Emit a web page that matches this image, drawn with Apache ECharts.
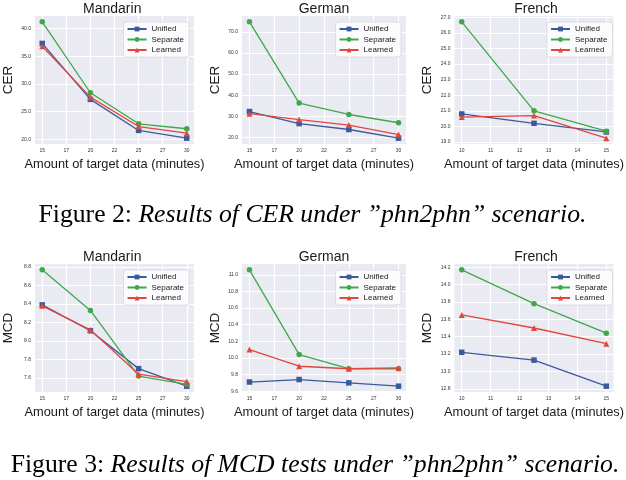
<!DOCTYPE html>
<html><head><meta charset="utf-8">
<script src="https://cdn.jsdelivr.net/npm/echarts@6/dist/echarts.min.js"></script>
<style>html,body{margin:0;padding:0;background:#fff}#c{width:626px;height:480px}</style>
</head><body><div id="c"></div><script>
const seriesNames = ['Unified', 'Separate', 'Learned'];
const mandarinMinutes = [15, 20, 25, 30];
const germanMinutes = [15, 20, 25, 30];
const frenchMinutes = [10, 12.5, 15];

const cerMandarinUnified = [37.3, 27.2, 21.6, 20.2];
const cerMandarinSeparate = [41.2, 28.4, 22.8, 21.9];
const cerMandarinLearned = [36.8, 27.6, 22.3, 21.1];
const cerGermanUnified = [32.3, 26.6, 23.8, 19.7];
const cerGermanSeparate = [74.7, 36.3, 30.9, 27.0];
const cerGermanLearned = [31.3, 28.5, 25.9, 21.4];
const cerFrenchUnified = [20.8, 20.2, 19.65];
const cerFrenchSeparate = [26.7, 21.0, 19.7];
const cerFrenchLearned = [20.6, 20.7, 19.25];
const mcdMandarinUnified = [8.39, 8.11, 7.70, 7.51];
const mcdMandarinSeparate = [8.77, 8.33, 7.62, 7.53];
const mcdMandarinLearned = [8.38, 8.12, 7.64, 7.56];
const mcdGermanUnified = [9.71, 9.74, 9.70, 9.66];
const mcdGermanSeparate = [11.06, 10.04, 9.87, 9.87];
const mcdGermanLearned = [10.10, 9.90, 9.87, 9.88];
const mcdFrenchUnified = [13.22, 13.13, 12.83];
const mcdFrenchSeparate = [14.17, 13.78, 13.44];
const mcdFrenchLearned = [13.65, 13.50, 13.32];

const xTicks1530 = [15, 17.5, 20, 22.5, 25, 27.5, 30];
const xTickLabels1530 = ['15', '17', '20', '22', '25', '27', '30'];
const xTicks1015 = [10, 11, 12, 13, 14, 15];
const xTickLabels1015 = ['10', '11', '12', '13', '14', '15'];
const yTicksCerMandarin = [20, 25, 30, 35, 40];
const yTicksCerGerman = [20, 30, 40, 50, 60, 70];
const yTicksCerFrench = [19, 20, 21, 22, 23, 24, 25, 26, 27];
const yTicksMcdMandarin = [7.6, 7.8, 8.0, 8.2, 8.4, 8.6, 8.8];
const yTicksMcdGerman = [9.6, 9.8, 10.0, 10.2, 10.4, 10.6, 10.8, 11.0];
const yTicksMcdFrench = [12.8, 13.0, 13.2, 13.4, 13.6, 13.8, 14.0, 14.2];

const panelTitles = ['Mandarin', 'German', 'French', 'Mandarin', 'German', 'French'];
const xLabelText = 'Amount of target data (minutes)';
const caption1Lead = 'Figure 2: ';
const caption1Body = 'Results of CER under \u201dphn2phn\u201d scenario.';
const caption2Lead = 'Figure 3: ';
const caption2Body = 'Results of MCD tests under \u201dphn2phn\u201d scenario.';

const colors = ['#3a5a9c', '#3fa84a', '#e0483e'];
const symbols = ['rect', 'circle', 'triangle'];
const symbolSizes = [5.5, 5.5, 6];
const SANS = '"Liberation Sans", Arial, sans-serif';
const SERIF = '"Liberation Serif", "Times New Roman", serif';

const cols = [{ left: 30.5, width: 163.5 }, { left: 242, width: 164 }, { left: 454.5, width: 163 }];
const rows = [{ top: 16, height: 128 }, { top: 264, height: 128 }];

const panels = [
  { yName: 'CER', x: mandarinMinutes, xt: xTicks1530, xl: xTickLabels1530, yt: yTicksCerMandarin, ys: [cerMandarinUnified, cerMandarinSeparate, cerMandarinLearned] },
  { yName: 'CER', x: germanMinutes, xt: xTicks1530, xl: xTickLabels1530, yt: yTicksCerGerman, ys: [cerGermanUnified, cerGermanSeparate, cerGermanLearned] },
  { yName: 'CER', x: frenchMinutes, xt: xTicks1015, xl: xTickLabels1015, yt: yTicksCerFrench, ys: [cerFrenchUnified, cerFrenchSeparate, cerFrenchLearned] },
  { yName: 'MCD', x: mandarinMinutes, xt: xTicks1530, xl: xTickLabels1530, yt: yTicksMcdMandarin, ys: [mcdMandarinUnified, mcdMandarinSeparate, mcdMandarinLearned] },
  { yName: 'MCD', x: germanMinutes, xt: xTicks1530, xl: xTickLabels1530, yt: yTicksMcdGerman, ys: [mcdGermanUnified, mcdGermanSeparate, mcdGermanLearned] },
  { yName: 'MCD', x: frenchMinutes, xt: xTicks1015, xl: xTickLabels1015, yt: yTicksMcdFrench, ys: [mcdFrenchUnified, mcdFrenchSeparate, mcdFrenchLearned] }
];

function padRange(arrs) {
  let lo = Infinity, hi = -Infinity;
  arrs.forEach(a => a.forEach(v => { lo = Math.min(lo, v); hi = Math.max(hi, v); }));
  const m = (hi - lo) * 0.05;
  return [lo - m, hi + m];
}

const grid = [], xAxis = [], yAxis = [], series = [], legend = [], graphic = [];
panels.forEach((p, i) => {
  const c = cols[i % 3], r = rows[Math.floor(i / 3)];
  grid.push({ left: c.left, top: r.top, width: c.width, height: r.height, show: true,
    backgroundColor: '#eaeaf2', borderWidth: 0 });
  const xr = padRange([p.x]);
  const yr = padRange(p.ys);
  xAxis.push({
    gridIndex: i, type: 'value', min: xr[0], max: xr[1],
    axisLine: { show: false }, axisTick: { show: false, customValues: p.xt },
    axisLabel: { customValues: p.xt, formatter: v => { const k = p.xt.findIndex(t => Math.abs(t - v) < 1e-6); return k >= 0 ? p.xl[k] : ''; },
      fontSize: 5, margin: 4, color: '#333', fontFamily: SANS },
    splitLine: { show: true, lineStyle: { color: '#ffffff', width: 1.2 } },
    name: xLabelText, nameLocation: 'middle', nameGap: 14,
    nameTextStyle: { fontSize: 12.8, color: '#1a1a1a', fontFamily: SANS }
  });
  yAxis.push({
    gridIndex: i, type: 'value', min: yr[0], max: yr[1],
    axisLine: { show: false }, axisTick: { show: false, customValues: p.yt },
    axisLabel: { customValues: p.yt, formatter: v => v.toFixed(1), fontSize: 5, margin: 4, color: '#333', fontFamily: SANS },
    splitLine: { show: true, lineStyle: { color: '#ffffff', width: 1.2 } },
    name: p.yName, nameLocation: 'middle', nameGap: 20,
    nameTextStyle: { fontSize: 13.5, color: '#1a1a1a', fontFamily: SANS }
  });
  p.ys.forEach((vals, k) => {
    series.push({
      type: 'line', name: seriesNames[k], xAxisIndex: i, yAxisIndex: i,
      data: p.x.map((xv, j) => [xv, vals[j]]),
      symbol: symbols[k], symbolSize: symbolSizes[k], showSymbol: true,
      lineStyle: { width: 1.3, color: colors[k] }, itemStyle: { color: colors[k] },
      z: 2 + k, animation: false, silent: true
    });
  });
  legend.push({
    data: seriesNames, orient: 'vertical',
    right: 626 - (c.left + c.width) + 5, top: r.top + 6,
    itemWidth: 19, itemHeight: 6, itemGap: 2.5,
    padding: [3, 5, 3, 3],
    backgroundColor: 'rgba(255,255,255,0.8)', borderColor: '#d8d8d8', borderWidth: 0.8, borderRadius: 3,
    textStyle: { fontSize: 8, color: '#1a1a1a', fontFamily: SANS }
  });
  graphic.push({ type: 'text', x: c.left + c.width / 2, y: r.top - 7,
    style: { text: panelTitles[i], fontSize: 14, fontFamily: SANS, fill: '#1a1a1a', textAlign: 'center', textVerticalAlign: 'middle' } });
});

const capRich = { n: { fontSize: 25.7, fontFamily: SERIF, fill: '#000' }, i: { fontSize: 25.7, fontFamily: SERIF, fontStyle: 'italic', fill: '#000' } };
graphic.push({ type: 'text', x: 312.5, y: 215, style: {
  text: '{n|' + caption1Lead + '}{i|' + caption1Body + '}', textAlign: 'center', textVerticalAlign: 'middle', rich: capRich } });
graphic.push({ type: 'text', x: 315, y: 465, style: {
  text: '{n|' + caption2Lead + '}{i|' + caption2Body + '}', textAlign: 'center', textVerticalAlign: 'middle', rich: capRich } });

const chart = echarts.init(document.getElementById('c'), null, { renderer: 'canvas' });
chart.setOption({ backgroundColor: '#ffffff', animation: false, grid, xAxis, yAxis, series, legend, graphic });
</script></body></html>
